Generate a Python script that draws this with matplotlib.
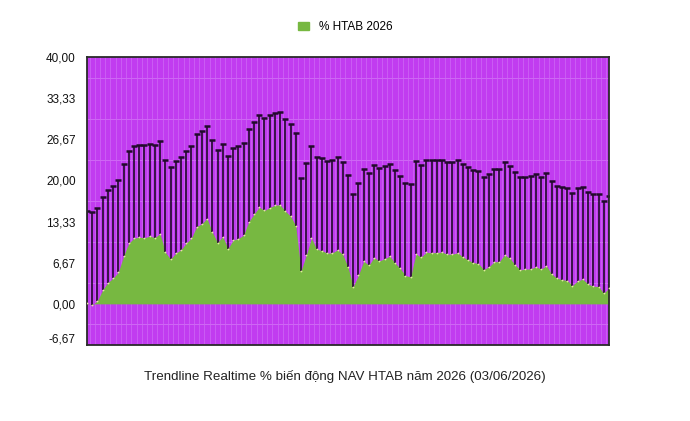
import numpy as np
import matplotlib
matplotlib.use("Agg")
import matplotlib.pyplot as plt
from matplotlib.patches import Patch

plt.rcParams['font.family'] = ['Liberation Sans', 'DejaVu Sans']

# % HTAB 2026 values, one per session
nav_pct = [
    0.11, -0.16, 0.49, 2.27, 3.46, 4.16, 5.13, 7.73, 9.83, 10.64,
    10.81, 10.70, 10.97, 10.75, 11.35, 8.37, 7.24, 8.21, 8.75, 9.83,
    10.64, 12.53, 12.97, 13.83, 11.62, 9.94, 10.91, 8.97, 10.32, 10.59,
    11.13, 13.34, 14.53, 15.67, 15.13, 15.61, 15.99, 16.05, 15.02, 14.21,
    12.64, 5.35, 7.89, 10.64, 8.86, 8.64, 8.21, 8.27, 8.75, 8.00,
    5.94, 2.81, 4.65, 6.92, 6.27, 7.51, 6.97, 7.29, 7.73, 6.65,
    5.73, 4.59, 4.38, 8.10, 7.56, 8.37, 8.27, 8.32, 8.37, 8.05,
    8.05, 8.27, 7.62, 7.13, 6.70, 6.54, 5.56, 6.00, 6.81, 6.86,
    7.94, 7.40, 6.32, 5.51, 5.62, 5.67, 6.00, 5.62, 6.16, 4.86,
    4.16, 3.94, 3.78, 2.97, 3.73, 4.00, 3.19, 2.86, 2.81, 1.73,
    2.54,
]
err_up = 15.0  # length of the upper error bar

y_ticks = [-6.67, 0.0, 6.67, 13.33, 20.0, 26.67, 33.33, 40.0]
y_labels = ["-6,67", "0,00", "6,67", "13,33", "20,00", "26,67", "33,33", "40,00"]

title = "Trendline Realtime % biến động NAV HTAB năm 2026 (03/06/2026)"
series_name = "% HTAB 2026"

bg = "#C13CF0"
green = "#77B841"
bar_col = "#220A2C"

x = np.arange(len(nav_pct))
y = np.array(nav_pct)

fig = plt.figure(figsize=(6.9, 4.21), dpi=100)
ax = fig.add_axes([0.1261, 0.1805, 0.7565, 0.684])
ax.set_facecolor(bg)

# faint grid
for xv in x[:-1] + 0.5:
    ax.axvline(xv, color="#CB5CF4", lw=0.7, zorder=0)
for yv in [-3.333, 3.333, 10.0, 16.667, 23.333, 30.0, 36.667]:
    ax.axhline(yv, color="#CF68F5", lw=0.7, zorder=0)

ax.fill_between(x, 0, y, color=green, lw=0, zorder=1)
ax.plot(x, y, ls="none", marker="o", ms=1.3, mew=0, color="#E4EBA0", zorder=3)

ax.vlines(x, y, y + err_up, color=bar_col, lw=1.2, zorder=2)
ax.plot(x, y + err_up, ls="none", marker="_", ms=5, mew=1.8, color=bar_col, zorder=2)

ax.set_xlim(0, len(nav_pct) - 1)
ax.set_ylim(-6.67, 40)
ax.set_xticks([])
ax.set_yticks(y_ticks)
ax.set_yticklabels(y_labels, fontsize=8.5, color="#111111")
ax.tick_params(axis="y", length=0, pad=8)
ax.get_yticklabels()[0].set_verticalalignment("bottom")

for s in ax.spines.values():
    s.set_color("#2A2A2A")
    s.set_linewidth(1.3)

fig.legend(handles=[Patch(color=green, label=series_name)], loc="center",
           bbox_to_anchor=(0.5, 0.935), frameon=False, fontsize=8.5,
           handlelength=1.0, handleheight=0.7, handletextpad=0.8)

fig.text(0.5, 0.105, title, ha="center", va="center", fontsize=9.6, color="#222222")

fig.savefig("out.png", dpi=100)
